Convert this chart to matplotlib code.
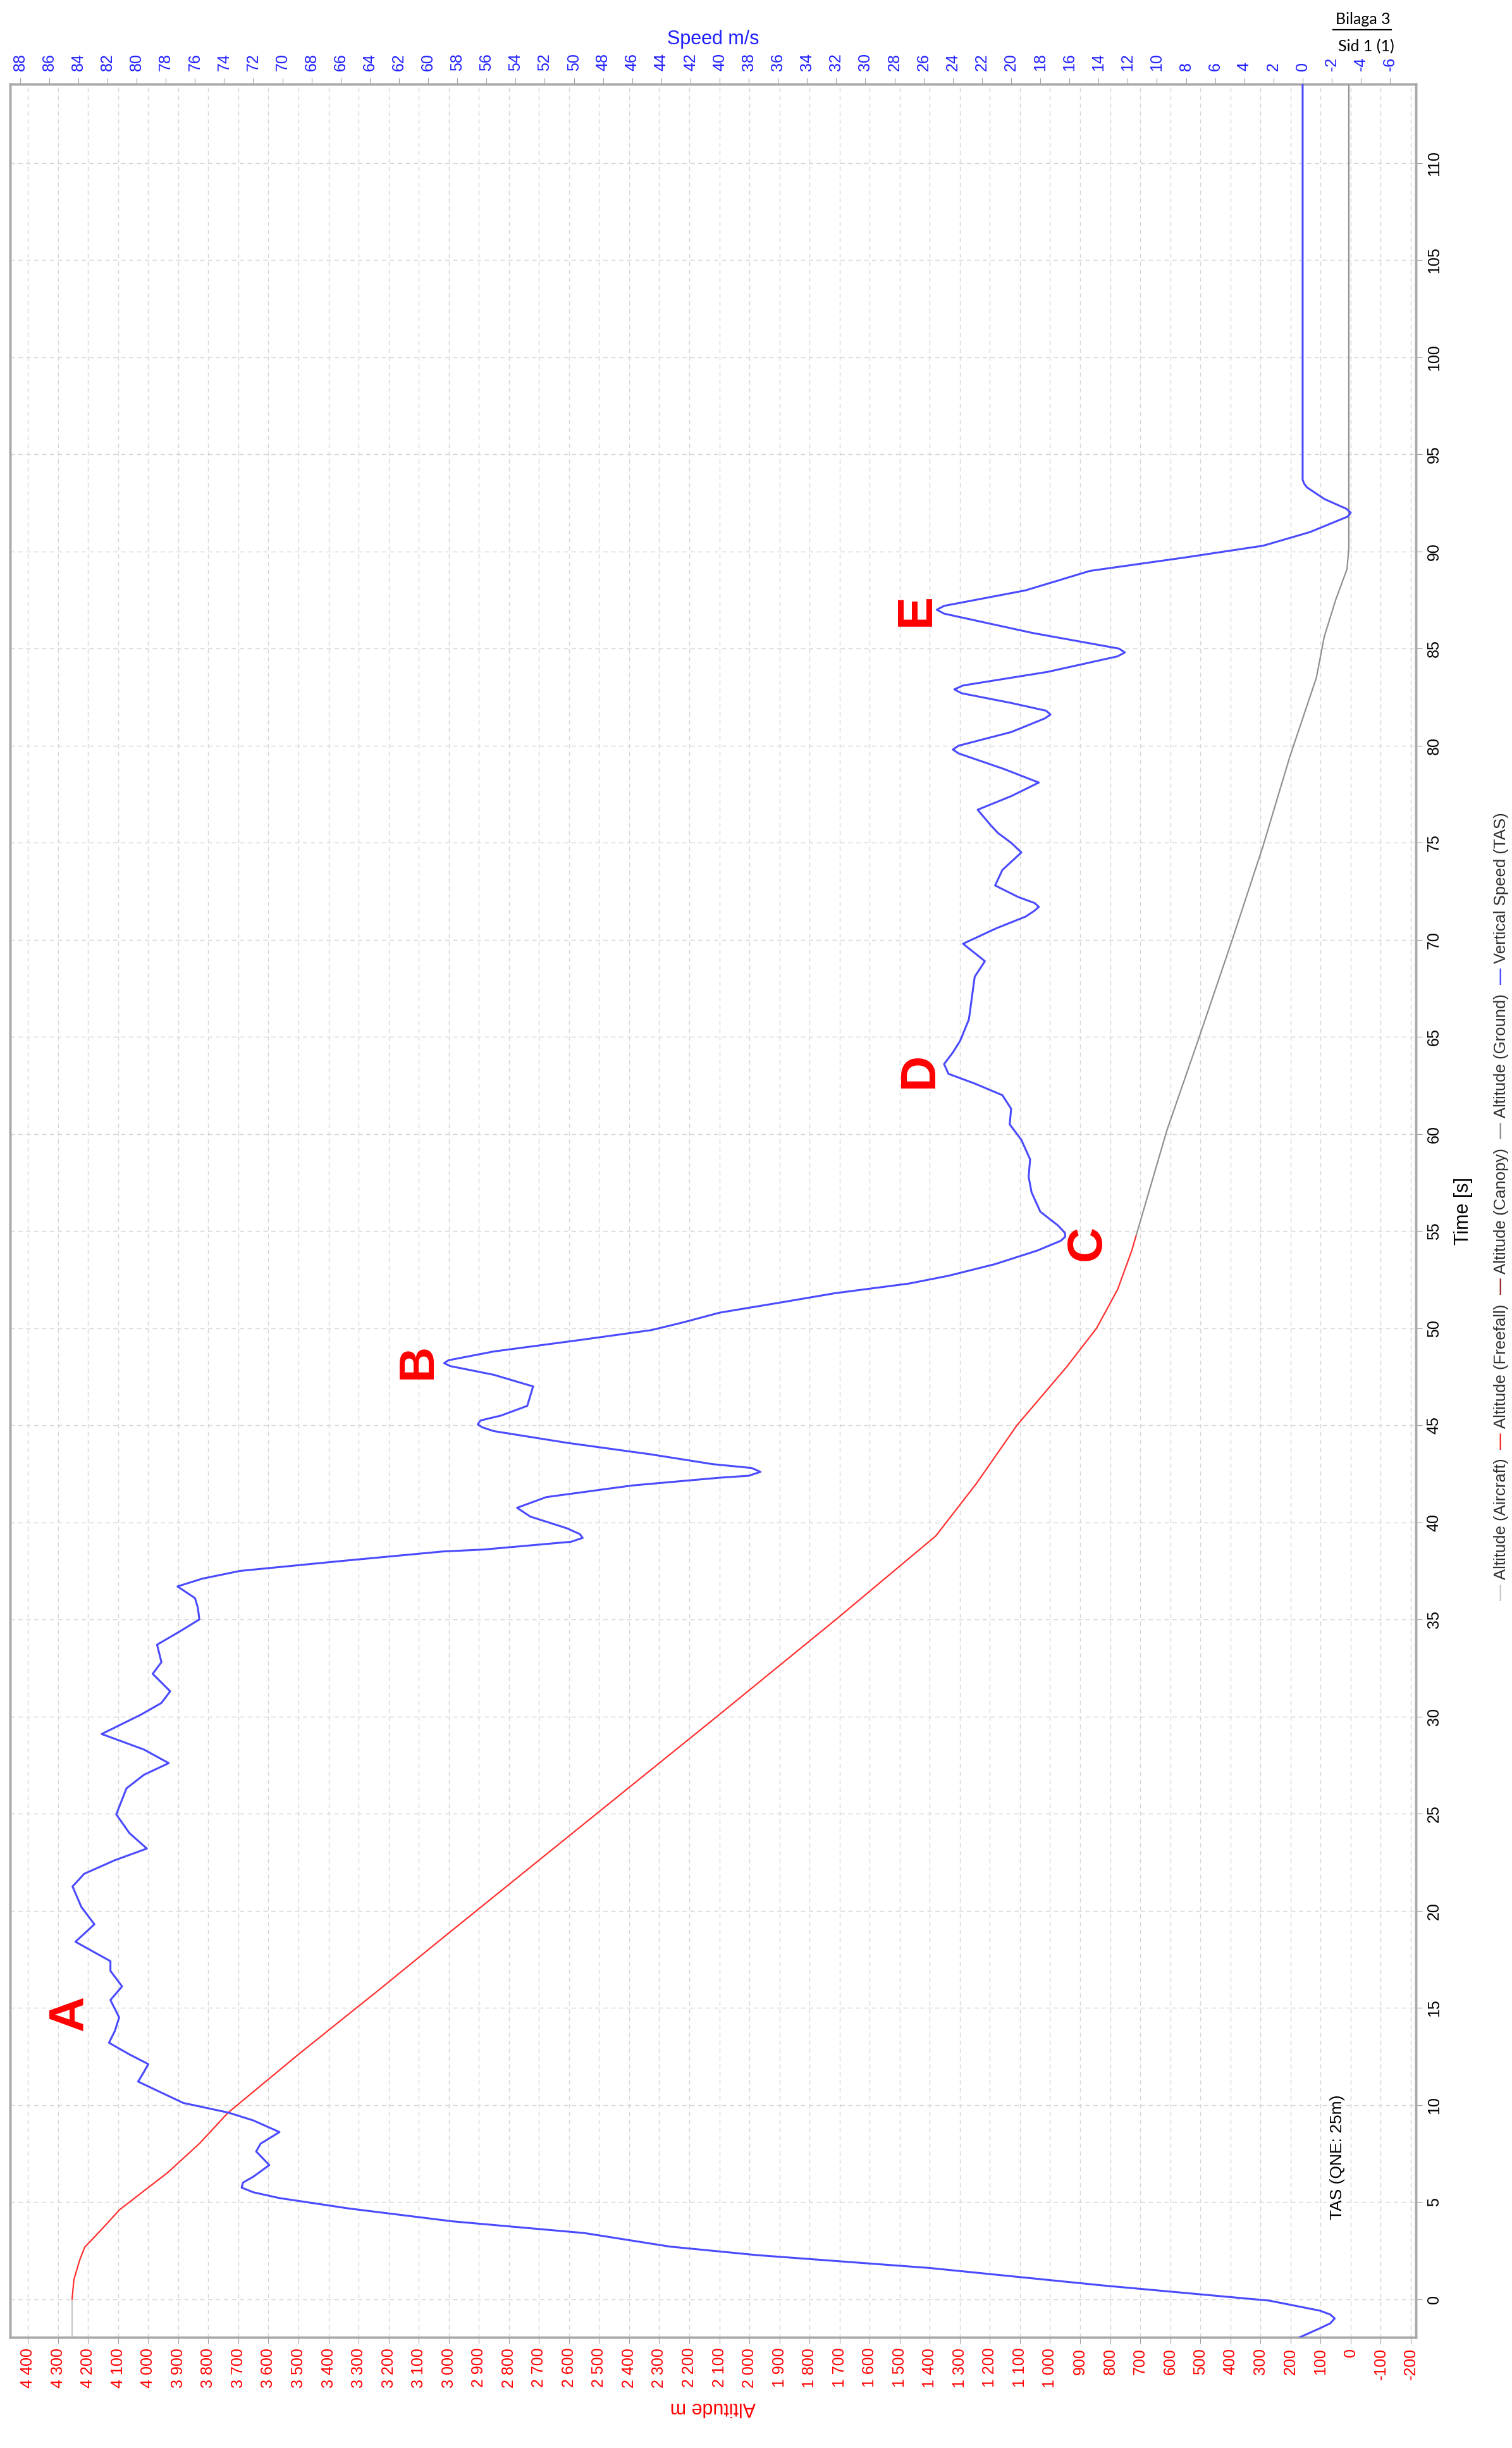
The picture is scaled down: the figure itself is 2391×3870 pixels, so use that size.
import matplotlib
matplotlib.use("Agg")
import matplotlib.pyplot as plt
from matplotlib.lines import Line2D

plt.rcParams['font.family'] = ['Liberation Sans', 'DejaVu Sans']
plt.rcParams['axes.unicode_minus'] = False

# time [s] / vertical speed [m/s]
speed_t = [-1.97, -1.5, -1.25, -1.0, -0.8, -0.6, -0.08, 0.7, 1.6, 2.26, 2.7, 3.4, 4.0, 4.66,
           5.2, 5.5, 5.74, 6.0, 6.3, 6.9, 7.6, 8.0, 8.6, 9.2, 9.6, 10.1, 10.7, 11.2, 11.7, 12.1,
           12.6, 13.2, 13.8, 14.5, 15.4, 16.1, 16.9, 17.4, 17.9, 18.4, 19.3, 20.2, 21.25, 21.9,
           22.6, 23.2, 24.0, 24.96, 26.3, 27.0, 27.6, 28.3, 29.1, 30.1, 30.7, 31.3, 32.2, 32.8,
           33.7, 34.4, 35.0, 35.6, 36.1, 36.7, 37.1, 37.5, 38.0, 38.5, 38.6, 39.0, 39.2, 39.4,
           39.7, 40.3, 40.75, 41.3, 41.9, 42.3, 42.4, 42.6, 42.8, 43.0, 43.5, 44.1, 44.7, 44.9,
           45.05, 45.25, 45.5, 46.0, 47.0, 47.6, 48.05, 48.2, 48.35, 48.8, 49.4, 49.9, 50.3, 50.8,
           51.3, 51.8, 52.3, 52.7, 53.3, 54.0, 54.5, 54.7, 54.9, 55.3, 56.0, 57.0, 57.8, 58.7,
           59.7, 60.5, 61.3, 62.0, 62.6, 63.1, 63.6, 64.2, 64.8, 65.9, 67.0, 68.1, 68.9, 69.8,
           70.6, 71.2, 71.5, 71.7, 71.9, 72.2, 72.8, 73.6, 74.5, 75.0, 75.5, 75.9, 76.7, 77.4,
           78.1, 78.8, 79.6, 79.8, 80.0, 80.7, 81.4, 81.6, 81.8, 82.2, 82.7, 82.9, 83.1, 83.8,
           84.6, 84.8, 85.0, 85.8, 86.8, 87.0, 87.2, 88.0, 89.0, 89.7, 90.3, 91.0, 91.8, 92.0,
           92.2, 92.7, 93.3, 93.5, 93.7, 114.07]
speed_v = [0.2, -1.2, -1.9, -2.2, -1.9, -1.2, 2.3, 13.7, 25.6, 37.4, 43.4, 49.3, 58.3, 65.4,
           70.2, 72.0, 72.8, 72.7, 72.0, 70.9, 71.8, 71.5, 70.2, 72.0, 73.7, 76.8, 78.5, 79.9,
           79.5, 79.2, 80.5, 81.9, 81.5, 81.2, 81.8, 81.0, 81.8, 81.8, 83.0, 84.2, 82.9, 83.8,
           84.4, 83.6, 81.5, 79.3, 80.5, 81.4, 80.7, 79.5, 77.8, 79.5, 82.4, 79.7, 78.3, 77.7,
           78.9, 78.3, 78.6, 77.0, 75.7, 75.8, 76.0, 77.2, 75.5, 72.9, 66.1, 59.0, 56.2, 50.2,
           49.4, 49.6, 50.5, 53.0, 53.9, 51.9, 46.0, 40.0, 38.0, 37.2, 37.8, 40.5, 44.7, 50.5,
           55.5, 56.3, 56.6, 56.4, 55.0, 53.2, 52.8, 55.5, 58.5, 58.9, 58.6, 55.5, 49.5, 44.7,
           42.5, 40.0, 36.0, 32.1, 27.0, 24.3, 21.1, 18.2, 16.6, 16.3, 16.3, 16.8, 18.0, 18.6,
           18.8, 18.7, 19.3, 20.1, 20.0, 20.6, 22.5, 24.3, 24.6, 24.0, 23.5, 22.9, 22.7, 22.5,
           21.8, 23.3, 21.0, 19.0, 18.4, 18.1, 18.4, 19.5, 21.1, 20.6, 19.3, 20.0, 20.9, 21.4,
           22.3, 20.0, 18.1, 20.5, 23.6, 24.0, 23.6, 20.0, 17.7, 17.3, 17.6, 20.0, 23.4, 23.9,
           23.3, 17.5, 12.7, 12.2, 12.6, 18.5, 24.6, 25.1, 24.6, 19.0, 14.6, 8.0, 2.7, -0.5,
           -3.1, -3.3, -3.0, -1.5, -0.3, -0.1, 0.0, 0.0]

# altitude [m]
aircraft_t = [-1.97, 0.0]
aircraft_alt = [4253, 4253]

freefall_t = [0, 1, 2, 2.67, 3.5, 4.6, 5.5, 6.5, 8.0, 9.6, 12.6, 14.9, 15.8, 18.6, 25, 30, 35,
              39.3, 40, 42, 45, 48, 50, 52, 54, 54.8]
freefall_alt = [4253, 4247, 4228, 4211, 4160, 4095, 4020, 3936, 3830, 3734, 3500, 3315, 3242,
                3020, 2508, 2108, 1712, 1380, 1345, 1245, 1110, 945, 845, 775, 728, 713]

ground_t = [54.8, 60.2, 64.8, 69.95, 74.8, 79.4, 83.5, 85.6, 87.5, 89.1, 90.2, 114.07]
ground_alt = [713, 611, 508, 395, 292, 203, 114, 88, 50, 12, 6, 6]

alt_ticks = list(range(-200, 4401, 100))
speed_ticks = list(range(-6, 89, 2))
time_ticks = list(range(0, 111, 5))

marks = ['A', 'B', 'C', 'D', 'E']
marks_t = [14.7, 48.3, 54.4, 63.3, 87.0]
marks_v = [84.6, 60.7, 14.8, 26.3, 26.5]

legend_names = ['Altitude (Aircraft)', 'Altitude (Freefall)', 'Altitude (Canopy)',
                'Altitude (Ground)', 'Vertical Speed (TAS)']
legend_cols = ['#c8c8c8', '#ff3030', '#a03030', '#909090', '#4a4aff']

W, H = 2391, 3870
fig = plt.figure(figsize=(W / 100, H / 100), dpi=100)
ax = fig.add_axes([15.6 / W, (H - 3695) / H, (2239 - 15.6) / W, (3695 - 133) / H])

ax.plot(aircraft_alt, aircraft_t, color=legend_cols[0], lw=1.6, zorder=3)
ax.plot(freefall_alt, freefall_t, color=legend_cols[1], lw=1.6, zorder=3)
ax.plot(ground_alt, ground_t, color=legend_cols[3], lw=1.6, zorder=3)
ax.set_xlim(4460, -217)
ax.set_ylim(-1.97, 114.07)

ax.set_xticks(alt_ticks)
ax.set_xticklabels([f"{v:,}".replace(",", " ") for v in alt_ticks])
ax.set_yticks(time_ticks)
ax.grid(True, color='#d6d6d6', lw=1.0, ls=(0, (5, 4)))
ax.set_axisbelow(True)
ax.tick_params(axis='x', bottom=True, top=False, labelrotation=90, labelcolor='red',
               labelsize=18, length=7, color='#a0a0a0', pad=5)
ax.tick_params(axis='y', left=False, right=True, labelleft=False, labelright=True,
               labelrotation=90, labelsize=18, length=7, color='#a0a0a0', pad=5)
for lbl in ax.get_yticklabels():
    lbl.set_verticalalignment('center')
ax.yaxis.set_label_position('right')
ax.set_ylabel('Time [s]', fontsize=22, rotation=90, labelpad=14)
ax.set_xlabel('Altitude m', fontsize=22, rotation=180, color='red', labelpad=12)

ax2 = ax.twiny()
ax2.plot(speed_v, speed_t, color=legend_cols[4], lw=2.2, zorder=4,
         solid_joinstyle='round')
ax2.set_xlim(88.7, -7.77)
ax2.set_xticks(speed_ticks)
ax2.tick_params(axis='x', labelrotation=90, labelcolor='#2020ff', labelsize=18, length=7,
                color='#a0a0a0', pad=8)
ax2.set_xlabel('Speed m/s', fontsize=22, color='#2020ff', labelpad=10)

for a in (ax, ax2):
    for s in a.spines.values():
        s.set_color('#a8a8a8')
        s.set_linewidth(2.5)

for m, t, v in zip(marks, marks_t, marks_v):
    ax2.text(v, t, m, color='red', fontsize=56, fontweight='bold', rotation=90,
             ha='center', va='center')

ax.text(44, 7.3, 'TAS (QNE: 25m)', fontsize=19, rotation=90, ha='center', va='center')

# page header
fig.text(2155 / W, 1 - 30 / H, 'Bilaga 3', fontsize=18, family='Lato', ha='center', va='center')
fig.add_artist(Line2D([2108 / W, 2200 / W], [1 - 47 / H, 1 - 47 / H], color='black', lw=1.6))
fig.text(2160 / W, 1 - 74 / H, 'Sid 1 (1)', fontsize=18, family='Lato', ha='center', va='center')

# rotated legend, laid out bottom to top
fig.canvas.draw()
renderer = fig.canvas.get_renderer()
xl = 2374 / W
ypos = (H - 2530) / H
for name, col in zip(legend_names, legend_cols):
    d = fig.text(xl, ypos, '\u2014', rotation=90, color=col, fontsize=18.5,
                 fontweight='bold', ha='center', va='bottom')
    ypos += d.get_window_extent(renderer).height / H + 7 / H
    t = fig.text(xl, ypos, name, rotation=90, fontsize=18.5, color='#303030',
                 ha='center', va='bottom')
    ypos += t.get_window_extent(renderer).height / H + 15 / H

fig.savefig('out.png', dpi=100)
